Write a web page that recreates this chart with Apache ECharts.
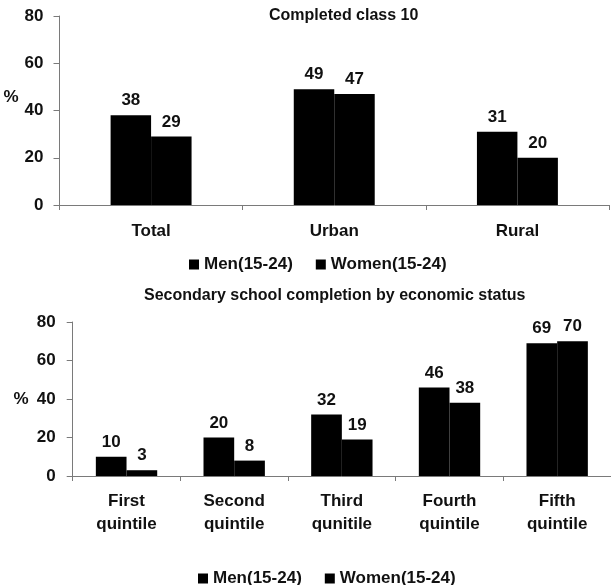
<!DOCTYPE html>
<html>
<head>
<meta charset="utf-8">
<script src="https://cdn.jsdelivr.net/npm/echarts@6/dist/echarts.min.js"></script>
<style>
html,body{margin:0;padding:0;background:#fff;}
#c{width:611px;height:585px;}
</style>
</head>
<body>
<div id="c"></div>
<script>
// ---- Data ----
const topTitle = 'Completed class 10';
const topCategories = ['Total', 'Urban', 'Rural'];
const topMen = [38, 49, 31];
const topWomen = [29, 47, 20];

const bottomTitle = 'Secondary school completion by economic status';
const bottomCategories = ['First\nquintile', 'Second\nquintile', 'Third\nqunitile', 'Fourth\nquintile', 'Fifth\nquintile'];
const bottomMen = [10, 20, 32, 46, 69];
const bottomWomen = [3, 8, 19, 38, 70];

const seriesNames = ['Men(15-24)', 'Women(15-24)'];
const yTicks = { min: 0, max: 80, interval: 20 };
const yName = '%';

// ---- Chart ----
const FONT = 'Liberation Sans';
const TXT = '#111';
const AXIS = '#7a7a7a';
const chart = echarts.init(document.getElementById('c'), null, {renderer: 'canvas'});

function yAxisCfg(gridIndex, labelMargin, nameGap, nameStyle) {
  return {
    type: 'value', gridIndex, min: yTicks.min, max: yTicks.max, interval: yTicks.interval,
    name: yName, nameLocation: 'middle', nameRotate: 0, nameGap,
    nameTextStyle: Object.assign({fontFamily: FONT, fontWeight: 'bold', fontSize: 17, color: TXT}, nameStyle),
    axisLine: {show: true, lineStyle: {color: AXIS, width: 1}},
    axisTick: {show: true, length: 6, lineStyle: {color: AXIS}},
    axisLabel: {margin: labelMargin, fontFamily: FONT, fontWeight: 'bold', fontSize: 17, color: TXT},
    splitLine: {show: false}
  };
}
function xAxisCfg(gridIndex, data, margin, lineHeight) {
  return {
    type: 'category', gridIndex, data,
    axisLine: {show: true, lineStyle: {color: AXIS, width: 1}},
    axisTick: {show: true, length: 5, lineStyle: {color: AXIS}},
    axisLabel: {margin, fontFamily: FONT, fontWeight: 'bold', fontSize: 17, color: TXT, lineHeight, interval: 0}
  };
}
function barSeries(name, data, axisIndex, gap) {
  return {
    type: 'bar', name, data, xAxisIndex: axisIndex, yAxisIndex: axisIndex,
    barGap: '0%', barCategoryGap: gap,
    itemStyle: {color: '#000'},
    label: {show: true, position: 'top', distance: 6, fontFamily: FONT, fontWeight: 'bold', fontSize: 17, color: TXT},
    emphasis: {disabled: true}
  };
}
function legendCfg(left, top) {
  return {
    data: seriesNames, left, top, orient: 'horizontal', icon: 'rect',
    itemWidth: 10, itemHeight: 10, itemGap: 23, padding: 0,
    textStyle: {fontFamily: FONT, fontWeight: 'bold', fontSize: 17, color: TXT},
    selectedMode: false
  };
}

const option = {
  animation: false,
  backgroundColor: '#fff',
  title: [
    {text: topTitle, left: 269, top: 8, padding: 0,
     textStyle: {fontFamily: FONT, fontWeight: 'bold', fontSize: 16, color: TXT}},
    {text: bottomTitle, left: 144, top: 288, padding: 0,
     textStyle: {fontFamily: FONT, fontWeight: 'bold', fontSize: 16, color: TXT}}
  ],
  legend: [legendCfg(189, 256), legendCfg(198, 570)],
  grid: [
    {left: 59.5, top: 16, width: 549.5, height: 189, containLabel: false},
    {left: 72.7, top: 322, width: 539, height: 154, containLabel: false}
  ],
  xAxis: [xAxisCfg(0, topCategories, 16, 20), xAxisCfg(1, bottomCategories, 14, 23)],
  yAxis: [
    yAxisCfg(0, 16, 36, {verticalAlign: 'bottom', padding: [0, 0, 5, 0]}),
    yAxisCfg(1, 17, 44, {})
  ],
  series: [
    barSeries(seriesNames[0], topMen, 0, '55.8%'),
    barSeries(seriesNames[1], topWomen, 0, '55.8%'),
    barSeries(seriesNames[0], bottomMen, 1, '43%'),
    barSeries(seriesNames[1], bottomWomen, 1, '43%')
  ]
};
chart.setOption(option);
</script>
</body>
</html>
